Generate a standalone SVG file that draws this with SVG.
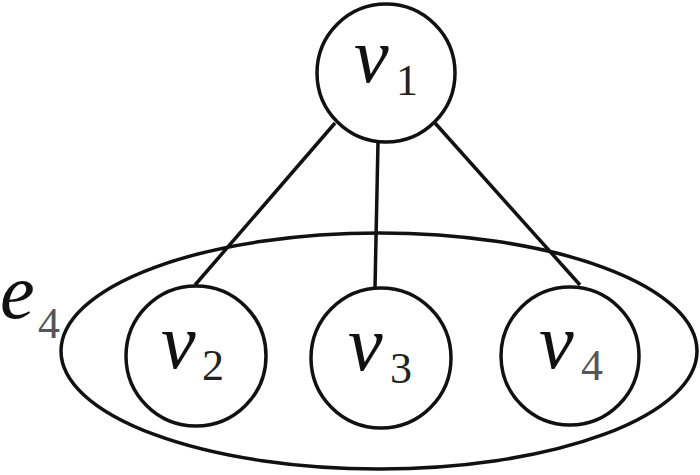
<svg xmlns="http://www.w3.org/2000/svg" width="700" height="475" viewBox="0 0 700 475">
<style>
.node{fill:#fff;stroke:#111;stroke-width:3.5}
.edge{fill:none;stroke:#111;stroke-width:3.5}
.v{font-style:italic;font-size:78px;fill:#111}
.s{font-size:44px;fill:#222}
.g{fill:#555}
</style>
<rect width="700" height="475" fill="#fff"/>
<g font-family="Liberation Serif, Tinos, Times New Roman, DejaVu Serif, serif">
<g id="hyperedge-e4">
<ellipse class="edge" cx="379" cy="351" rx="318" ry="118"/>
<text x="0" y="318" class="v">e</text><text x="38" y="338" class="s g">4</text>
</g>
<g id="connectors">
<line class="edge" x1="335" y1="123" x2="195" y2="285"/>
<line class="edge" x1="378" y1="142" x2="375" y2="288"/>
<line class="edge" x1="435" y1="123" x2="580" y2="285"/>
</g>
<g id="v1">
<circle class="node" cx="386" cy="73" r="69"/>
<text x="354" y="82" class="v">v</text><text x="396" y="95" class="s">1</text>
</g>
<g id="v2">
<circle class="node" cx="196" cy="356" r="70"/>
<text x="161" y="368" class="v">v</text><text x="202" y="380" class="s">2</text>
</g>
<g id="v3">
<circle class="node" cx="381" cy="358" r="70"/>
<text x="348" y="370" class="v">v</text><text x="390" y="383" class="s">3</text>
</g>
<g id="v4">
<circle class="node" cx="570" cy="356" r="69"/>
<text x="539" y="368" class="v">v</text><text x="581" y="380" class="s g">4</text>
</g>
</g>
</svg>
